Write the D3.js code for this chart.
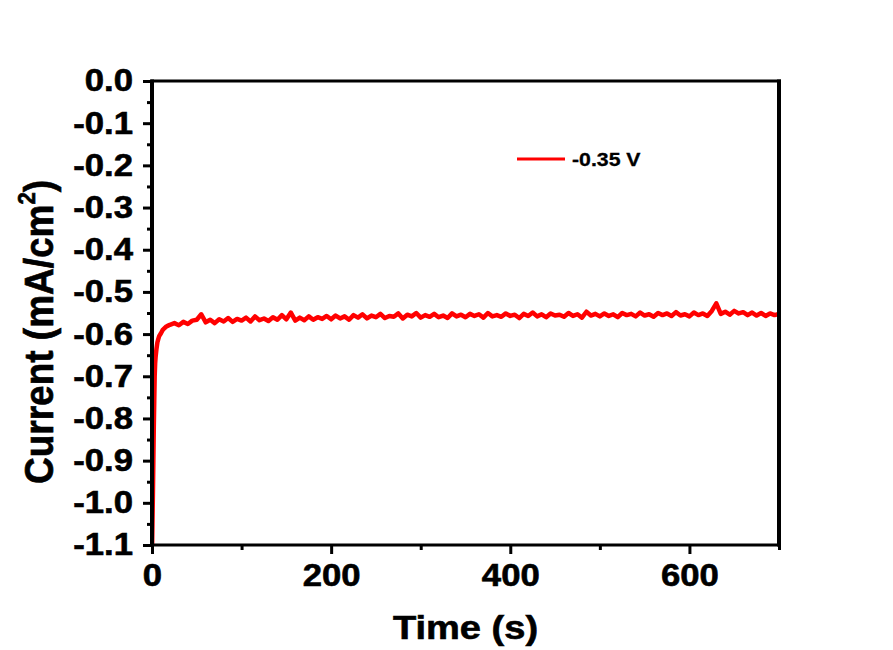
<!doctype html>
<html lang="en">
<head>
  <meta charset="utf-8">
  <title>Chronoamperometry</title>
  <style>
  body { margin: 0; background: #fff; }
  svg { display: block; }
  text { font-family: "Liberation Sans", Arial, sans-serif; font-weight: bold; fill: #000; stroke: #000; stroke-width: 0.6px; }
  .axis path, .axis line { stroke: #000; }
  </style>
</head>
<body>
  <div id="chart"></div>
  <script src="https://cdn.jsdelivr.net/npm/d3@7"></script>
  <script>
    // time in seconds, current in mA/cm2
    var timeS = [0, 0.5, 1, 1.5, 2, 2.5, 3, 3.5, 4, 5, 6, 7, 8, 10, 12, 14, 16, 18,
      20, 25, 30, 35, 40, 45, 50, 55, 60, 65, 70, 75, 80, 85, 90, 95,
      100, 105, 110, 115, 120, 125, 130, 135, 140, 145, 150, 155, 160, 165, 170, 175, 180, 185, 190, 195,
      200, 205, 210, 215, 220, 225, 230, 235, 240, 245, 250, 255, 260, 265, 270, 275, 280, 285, 290, 295,
      300, 305, 310, 315, 320, 325, 330, 335, 340, 345, 350, 355, 360, 365, 370, 375, 380, 385, 390, 395,
      400, 405, 410, 415, 420, 425, 430, 435, 440, 445, 450, 455, 460, 465, 470, 475, 480, 485, 490, 495,
      500, 505, 510, 515, 520, 525, 530, 535, 540, 545, 550, 555, 560, 565, 570, 575, 580, 585, 590, 595,
      600, 605, 610, 615, 620, 625, 630, 635, 640, 645, 650, 655, 660, 665, 670, 675, 680, 685, 690, 695, 700];

    var current = [-1.12, -1.05, -0.98, -0.9, -0.82, -0.76, -0.70, -0.67, -0.655, -0.635, -0.62, -0.612, -0.605, -0.598, -0.59, -0.586, -0.582, -0.58,
      -0.578, -0.574, -0.579, -0.571, -0.576, -0.568, -0.566, -0.553, -0.572, -0.566, -0.574, -0.565, -0.570, -0.562, -0.571, -0.564,
      -0.568, -0.561, -0.570, -0.558, -0.567, -0.563, -0.569, -0.560, -0.566, -0.555, -0.565, -0.549, -0.568, -0.561, -0.567, -0.558, -0.566, -0.560, -0.564, -0.557,
      -0.565, -0.556, -0.563, -0.558, -0.566, -0.555, -0.561, -0.553, -0.563, -0.556, -0.560, -0.552, -0.562, -0.557, -0.559, -0.551, -0.563, -0.554, -0.558, -0.550,
      -0.561, -0.555, -0.559, -0.552, -0.560, -0.556, -0.562, -0.551, -0.558, -0.554, -0.560, -0.552, -0.557, -0.553, -0.561, -0.550, -0.558, -0.555, -0.559, -0.551,
      -0.557, -0.554, -0.562, -0.552, -0.557, -0.549, -0.558, -0.553, -0.560, -0.551, -0.556, -0.554, -0.559, -0.550, -0.557, -0.553, -0.561, -0.547, -0.556, -0.552,
      -0.558, -0.551, -0.557, -0.553, -0.560, -0.550, -0.555, -0.552, -0.558, -0.549, -0.556, -0.553, -0.559, -0.550, -0.555, -0.551, -0.557, -0.548, -0.556, -0.553,
      -0.558, -0.549, -0.555, -0.551, -0.557, -0.545, -0.527, -0.552, -0.547, -0.554, -0.545, -0.551, -0.548, -0.555, -0.549, -0.556, -0.550, -0.557, -0.551, -0.555, -0.552];

    var xTicks = [0, 200, 400, 600];
    var xMinor = [100, 300, 500, 700];
    var yTicks = [0, -0.1, -0.2, -0.3, -0.4, -0.5, -0.6, -0.7, -0.8, -0.9, -1.0, -1.1];
    var yMinor = [-0.05, -0.15, -0.25, -0.35, -0.45, -0.55, -0.65, -0.75, -0.85, -0.95, -1.05];
    var seriesName = "-0.35 V";

    var width = 893, height = 650,
        margin = {top: 81, right: 114, bottom: 105, left: 152},
        w = width - margin.left - margin.right,
        h = height - margin.top - margin.bottom,
        stretch = 1.12;   // glyphs in the picture are a bit wide

    var svg = d3.select("#chart").append("svg")
        .attr("width", width)
        .attr("height", height);

    var g = svg.append("g").attr("transform", "translate(" + margin.left + "," + margin.top + ")");

    var x = d3.scaleLinear().domain([0, 700]).range([0, w]);
    var y = d3.scaleLinear().domain([-1.1, 0]).range([h, 0]);

    g.append("clipPath").attr("id", "clip")
      .append("rect").attr("width", w).attr("height", h);

    // curve
    var pts = timeS.map(function(t, i) { return [t, current[i]]; });
    var line = d3.line().x(function(d) { return x(d[0]); }).y(function(d) { return y(d[1]); });
    g.append("path")
      .datum(pts)
      .attr("clip-path", "url(#clip)")
      .attr("d", line)
      .attr("fill", "none")
      .attr("stroke", "#ff0000")
      .attr("stroke-width", 4.5)
      .attr("stroke-linejoin", "round");

    // minor ticks
    g.append("g").attr("class", "axis")
      .attr("transform", "translate(0," + h + ")")
      .call(d3.axisBottom(x).tickValues(xMinor).tickSize(5).tickFormat(""))
      .call(function(s) { s.select(".domain").remove(); s.selectAll("line").attr("stroke-width", 3); });
    g.append("g").attr("class", "axis")
      .call(d3.axisLeft(y).tickValues(yMinor).tickSize(5).tickFormat(""))
      .call(function(s) { s.select(".domain").remove(); s.selectAll("line").attr("stroke-width", 3); });

    // major ticks + labels
    var xAx = g.append("g").attr("class", "axis")
      .attr("transform", "translate(0," + h + ")")
      .call(d3.axisBottom(x).tickValues(xTicks).tickSize(9).tickPadding(10).tickFormat(function(d) { return d; }));
    xAx.select(".domain").remove();
    xAx.selectAll("line").attr("stroke-width", 3);
    xAx.selectAll("text").attr("font-size", 31).attr("transform", "scale(" + stretch + ",1)");

    var yAx = g.append("g").attr("class", "axis")
      .call(d3.axisLeft(y).tickValues(yTicks).tickSize(9).tickFormat(function(d) { return d.toFixed(1); }));
    yAx.select(".domain").remove();
    yAx.selectAll("line").attr("stroke-width", 3);
    yAx.selectAll("text").attr("font-size", 31)
      .attr("x", -19 / stretch)
      .attr("transform", "scale(" + stretch + ",1)");

    // frame
    g.append("line").attr("x1", -1.5).attr("x2", w + 2).attr("y1", 0).attr("y2", 0).attr("stroke", "#000").attr("stroke-width", 3);
    g.append("line").attr("x1", -1.5).attr("x2", w + 2).attr("y1", h).attr("y2", h).attr("stroke", "#000").attr("stroke-width", 3);
    g.append("line").attr("x1", 0).attr("x2", 0).attr("y1", -1.5).attr("y2", h + 1.5).attr("stroke", "#000").attr("stroke-width", 4);
    g.append("line").attr("x1", w).attr("x2", w).attr("y1", -1.5).attr("y2", h + 1.5).attr("stroke", "#000").attr("stroke-width", 4);

    // axis titles
    svg.append("text")
      .attr("transform", "translate(" + (margin.left + w / 2) + ",639) scale(" + stretch + ",1)")
      .attr("text-anchor", "middle")
      .attr("font-size", 34)
      .text("Time (s)");

    var yt = svg.append("text")
      .attr("transform", "translate(53,332) rotate(-90) scale(1," + stretch + ")")
      .attr("text-anchor", "middle")
      .attr("font-size", 37);
    yt.append("tspan").text("Current (mA/cm");
    yt.append("tspan").attr("font-size", 22).attr("dy", -16).text("2");
    yt.append("tspan").attr("dy", 16).text(")");

    // legend
    var lg = svg.append("g").attr("transform", "translate(517,159)");
    lg.append("line").attr("x1", 0).attr("x2", 48).attr("stroke", "#ff0000").attr("stroke-width", 3);
    lg.append("text")
      .attr("transform", "translate(55,7) scale(" + stretch + ",1)")
      .attr("font-size", 19)
      .style("stroke-width", "0.3px")
      .text(seriesName);
  </script>
</body>
</html>
